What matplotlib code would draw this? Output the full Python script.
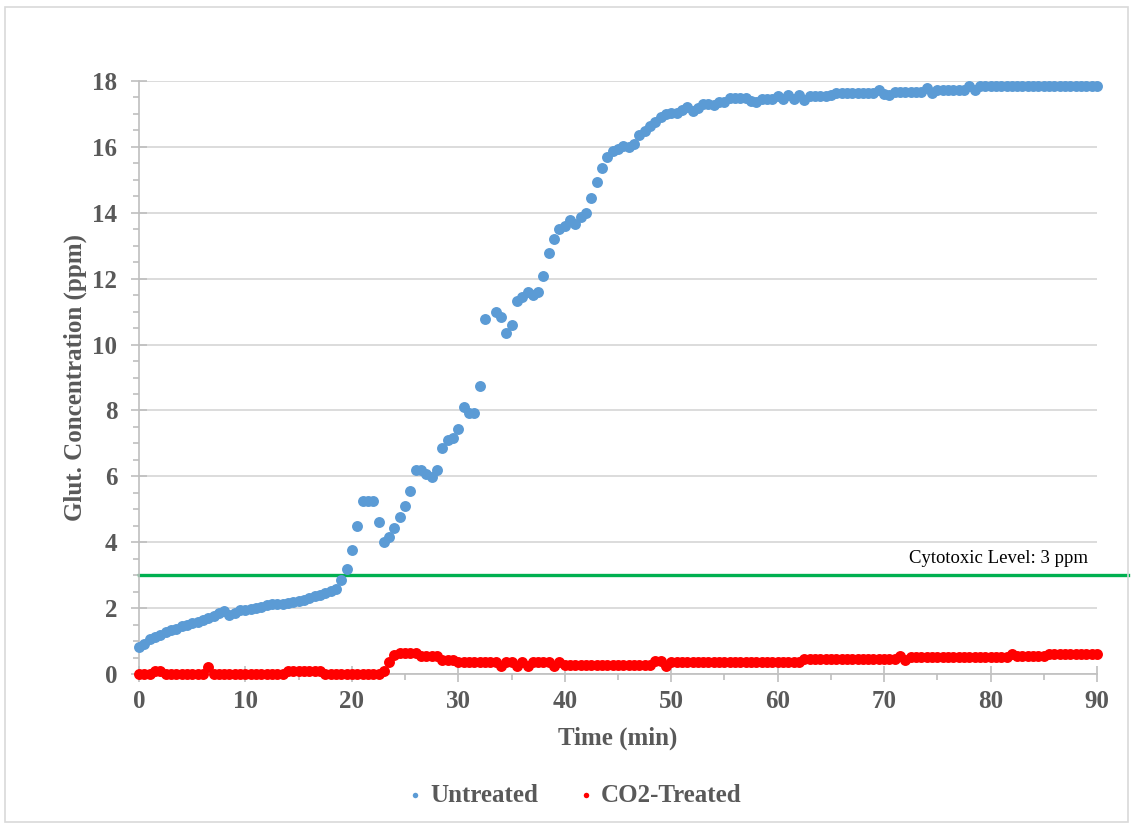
import matplotlib.pyplot as plt
from matplotlib.patches import Rectangle
from matplotlib.ticker import MultipleLocator
import numpy as np

# sampling every 30 s over 90 min
time_min = np.arange(0, 90.5, 0.5)

untreated = [
    0.83, 0.92, 1.05, 1.12, 1.18, 1.27, 1.33, 1.37, 1.45, 1.49,
    1.54, 1.58, 1.64, 1.70, 1.76, 1.84, 1.90, 1.80, 1.86, 1.95,
    1.93, 1.97, 2.00, 2.03, 2.08, 2.11, 2.11, 2.11, 2.15, 2.19,
    2.22, 2.26, 2.31, 2.36, 2.40, 2.46, 2.53, 2.59, 2.85, 3.18,
    3.76, 4.50, 5.26, 5.26, 5.26, 4.60, 4.00, 4.15, 4.42, 4.76,
    5.10, 5.56, 6.18, 6.18, 6.07, 5.99, 6.19, 6.85, 7.10, 7.17,
    7.43, 8.11, 7.93, 7.93, 8.75, 10.78, np.nan, 11.00, 10.84, 10.35,
    10.60, 11.33, 11.44, 11.60, 11.50, 11.60, 12.09, 12.77, 13.20, 13.50,
    13.60, 13.78, 13.66, 13.86, 14.00, 14.46, 14.92, 15.36, 15.69, 15.88,
    15.94, 16.03, 16.01, 16.09, 16.36, 16.48, 16.64, 16.77, 16.92, 16.99,
    17.04, 17.02, 17.12, 17.22, 17.10, 17.18, 17.30, 17.30, 17.28, 17.37,
    17.35, 17.48, 17.48, 17.48, 17.48, 17.40, 17.35, 17.45, 17.45, 17.45,
    17.55, 17.46, 17.56, 17.46, 17.56, 17.43, 17.54, 17.54, 17.54, 17.54,
    17.56, 17.63, 17.63, 17.63, 17.63, 17.63, 17.63, 17.63, 17.63, 17.74,
    17.62, 17.58, 17.67, 17.67, 17.67, 17.67, 17.67, 17.67, 17.80, 17.65,
    17.74, 17.74, 17.74, 17.74, 17.74, 17.74, 17.86, 17.74, 17.86, 17.86,
    17.86, 17.86, 17.86, 17.86, 17.86, 17.86, 17.86, 17.86, 17.86, 17.86,
    17.86, 17.86, 17.86, 17.86, 17.86, 17.86, 17.86, 17.86, 17.86, 17.86,
    17.86,
]

co2_treated = [
    0.00, 0.00, 0.00, 0.08, 0.08, 0.00, 0.00, 0.00, 0.00, 0.00,
    0.00, 0.00, 0.00, 0.20, 0.00, 0.00, 0.00, 0.00, 0.00, 0.00,
    0.00, 0.00, 0.00, 0.00, 0.00, 0.00, 0.00, 0.00, 0.08, 0.08,
    0.08, 0.08, 0.08, 0.08, 0.08, 0.00, 0.00, 0.00, 0.00, 0.00,
    0.00, 0.00, 0.00, 0.00, 0.00, 0.00, 0.09, 0.36, 0.57, 0.63,
    0.63, 0.63, 0.63, 0.56, 0.56, 0.56, 0.56, 0.44, 0.44, 0.44,
    0.36, 0.36, 0.36, 0.36, 0.36, 0.36, 0.36, 0.36, 0.25, 0.36,
    0.36, 0.25, 0.36, 0.25, 0.37, 0.37, 0.37, 0.37, 0.25, 0.36,
    0.28, 0.28, 0.28, 0.28, 0.28, 0.28, 0.28, 0.28, 0.28, 0.28,
    0.28, 0.28, 0.28, 0.28, 0.28, 0.28, 0.28, 0.38, 0.38, 0.25,
    0.36, 0.36, 0.36, 0.36, 0.36, 0.36, 0.36, 0.36, 0.36, 0.36,
    0.36, 0.36, 0.36, 0.36, 0.36, 0.36, 0.36, 0.36, 0.36, 0.36,
    0.36, 0.36, 0.36, 0.36, 0.36, 0.46, 0.46, 0.46, 0.46, 0.46,
    0.46, 0.46, 0.46, 0.46, 0.46, 0.46, 0.46, 0.46, 0.46, 0.46,
    0.46, 0.46, 0.46, 0.56, 0.42, 0.52, 0.52, 0.52, 0.52, 0.52,
    0.52, 0.52, 0.52, 0.52, 0.52, 0.52, 0.52, 0.52, 0.52, 0.52,
    0.52, 0.52, 0.52, 0.52, 0.61, 0.54, 0.54, 0.54, 0.54, 0.54,
    0.54, 0.61, 0.61, 0.61, 0.61, 0.61, 0.61, 0.61, 0.61, 0.61,
    0.61,
]

cytotoxic_level = 3

plt.rcParams['font.family'] = ['Liberation Serif', 'DejaVu Serif']
gray = '#595959'
axis_gray = '#BFBFBF'

fig = plt.figure(figsize=(11.31, 8.24), dpi=100)
ax = fig.add_axes([139/1131, 150/824, 958/1131, 593/824])

ax.scatter(time_min, untreated, s=62, color='#5B9BD5', linewidths=0,
           label='Untreated', zorder=3, clip_on=False)
ax.scatter(time_min, co2_treated, s=62, color='#FF0000', linewidths=0,
           label='CO2-Treated', zorder=3, clip_on=False)

# threshold line runs out past the plot area to the chart edge
ax.axhline(cytotoxic_level, xmin=0, xmax=(1128-139)/958, color='#00B050',
           lw=2.4, zorder=2, clip_on=False)
ax.text(89.2, cytotoxic_level + 0.52, 'Cytotoxic Level: 3 ppm', ha='right',
        va='center', fontsize=13.5, color='black')

ax.set_xlim(0, 90)
ax.set_ylim(0, 18)
ax.set_xticks(range(0, 91, 10))
ax.set_xticks(range(5, 90, 10), minor=True)
ax.set_yticks(range(0, 19, 2))
ax.yaxis.set_minor_locator(MultipleLocator(0.5))

ax.yaxis.grid(True, color='#D9D9D9', lw=1.3)
ax.set_axisbelow(True)
for s in ['top', 'right']:
    ax.spines[s].set_visible(False)
for s in ['left', 'bottom']:
    ax.spines[s].set_color(axis_gray)
    ax.spines[s].set_linewidth(1.2)

ax.tick_params(which='major', direction='inout', length=11, width=1.2,
               color=axis_gray, labelsize=18, labelcolor=gray)
ax.tick_params(which='minor', direction='out', length=4.5, width=1.2,
               color=axis_gray)
ax.tick_params(axis='x', which='major', pad=6)
ax.tick_params(axis='y', which='major', pad=10)
for lbl in ax.get_xticklabels() + ax.get_yticklabels():
    lbl.set_fontweight('bold')

ax.set_xlabel('Time (min)', fontsize=18, fontweight='bold', color=gray, labelpad=10)
ax.set_ylabel('Glut. Concentration (ppm)', fontsize=18, fontweight='bold',
              color=gray, labelpad=4)

fig.legend(loc='center', bbox_to_anchor=(572/1131, 1 - 795/824), ncol=2,
           frameon=False, prop={'weight': 'bold', 'size': 18}, labelcolor=gray,
           markerscale=0.5, handletextpad=0.1, columnspacing=1.4,
           handlelength=1.0)

# light frame around the whole chart
fig.patches.append(Rectangle((5/1131, 2/824), 1123/1131, 815/824,
                             transform=fig.transFigure, fill=False,
                             edgecolor='#D9D9D9', lw=1.2))

plt.savefig('out.png', dpi=100)
plt.close()
